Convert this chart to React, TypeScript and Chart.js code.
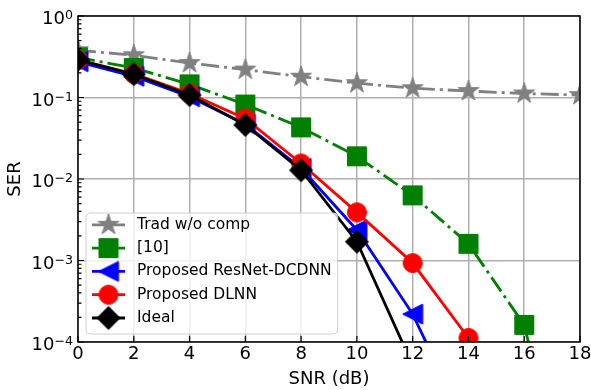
import React, { useEffect, useRef } from "react";
import { Chart, registerables } from "chart.js";

Chart.register(...registerables);

// ---------- data ----------
const snrDb = [0, 2, 4, 6, 8, 10, 12, 14, 16, 18];
const tradSER = [0.38, 0.33, 0.265, 0.22, 0.18, 0.15, 0.13, 0.12, 0.112, 0.107];
const ref10SER = [0.31, 0.23, 0.145, 0.082, 0.043, 0.019, 0.0063, 0.0016, 0.000162, 2.5e-7];
const resnetSER = [0.275, 0.182, 0.102, 0.047, 0.0135, 0.00237, 0.00022, 8e-6, null, null];
const dlnnSER = [0.29, 0.195, 0.112, 0.055, 0.0155, 0.0039, 0.00093, 0.000112, null, null];
const idealSER = [0.29, 0.193, 0.107, 0.046, 0.0128, 0.0017, 5.2e-5, null, null, null];
const seriesLabels = ["Trad w/o comp", "[10]", "Proposed ResNet-DCDNN", "Proposed DLNN", "Ideal"];
const yTickValues = [1e-4, 1e-3, 1e-2, 1e-1, 1];
const yTickExponents = ["\u22124", "\u22123", "\u22122", "\u22121", "0"];
const xTitle = "SNR (dB)";
const yTitle = "SER";

const FONT = '"DejaVu Sans", "Liberation Sans", sans-serif';

// ---------- styles ----------
type MarkerKind = "star" | "square" | "triLeft" | "circle" | "diamond";
const seriesStyles: { color: string; dash: number[]; marker: MarkerKind }[] = [
  { color: "#808080", dash: [18, 5, 3, 5], marker: "star" },
  { color: "#008000", dash: [17, 5, 3, 5], marker: "square" },
  { color: "#0000ff", dash: [], marker: "triLeft" },
  { color: "#ff0000", dash: [], marker: "circle" },
  { color: "#000000", dash: [], marker: "diamond" },
];

function makeMarker(kind: MarkerKind, color: string): HTMLCanvasElement {
  const S = 30;
  const c = document.createElement("canvas");
  c.width = S;
  c.height = S;
  const ctx = c.getContext("2d")!;
  const m = S / 2;
  ctx.fillStyle = color;
  ctx.strokeStyle = color;
  ctx.lineWidth = 1;
  ctx.lineJoin = "miter";
  ctx.beginPath();
  if (kind === "star") {
    const R = 11;
    const r = R * 0.382;
    for (let i = 0; i < 10; i++) {
      const ang = -Math.PI / 2 + (i * Math.PI) / 5;
      const rad = i % 2 === 0 ? R : r;
      const px = m + rad * Math.cos(ang);
      const py = m + rad * Math.sin(ang);
      if (i === 0) ctx.moveTo(px, py);
      else ctx.lineTo(px, py);
    }
  } else if (kind === "square") {
    const h = 9.5;
    ctx.rect(m - h, m - h, 2 * h, 2 * h);
  } else if (kind === "triLeft") {
    const h = 10;
    ctx.moveTo(m - h, m);
    ctx.lineTo(m + h, m - h);
    ctx.lineTo(m + h, m + h);
  } else if (kind === "circle") {
    ctx.arc(m, m, 9.5, 0, Math.PI * 2);
  } else if (kind === "diamond") {
    const h = 11.5;
    ctx.moveTo(m, m - h);
    ctx.lineTo(m + h, m);
    ctx.lineTo(m, m + h);
    ctx.lineTo(m - h, m);
  }
  ctx.closePath();
  ctx.fill();
  ctx.stroke();
  return c;
}

export default function App() {
  const ref = useRef<HTMLCanvasElement | null>(null);

  useEffect(() => {
    document.body.style.margin = "0";
    const canvas = ref.current;
    if (!canvas) return;

    const seriesValues = [tradSER, ref10SER, resnetSER, dlnnSER, idealSER];
    const markers = seriesStyles.map((s) => makeMarker(s.marker, s.color));

    const datasets = seriesValues.map((vals, i) => ({
      label: seriesLabels[i],
      data: snrDb.map((x, j) => ({ x, y: vals[j] })),
      borderColor: seriesStyles[i].color,
      backgroundColor: seriesStyles[i].color,
      borderWidth: 2.8,
      borderDash: seriesStyles[i].dash,
      borderCapStyle: "butt" as const,
      pointStyle: markers[i],
      pointRadius: 3,
      pointHoverRadius: 3,
      tension: 0,
      clip: 0,
      order: seriesValues.length - i,
      spanGaps: false,
    }));

    const framePlugin = {
      id: "mplFrame",
      afterDatasetsDraw(chart: any) {
        const { ctx, chartArea: a } = chart;
        const xs = chart.scales.x;
        const ys = chart.scales.y;
        ctx.save();
        // spines
        ctx.strokeStyle = "#000";
        ctx.lineWidth = 1.5;
        ctx.strokeRect(a.left, a.top, a.right - a.left, a.bottom - a.top);
        // inward ticks
        ctx.lineWidth = 1.2;
        ctx.beginPath();
        yTickValues.forEach((v) => {
          const py = ys.getPixelForValue(v);
          ctx.moveTo(a.left, py);
          ctx.lineTo(a.left + 6, py);
        });
        for (let k = 0; k < yTickValues.length - 1; k++) {
          for (let mlt = 2; mlt <= 9; mlt++) {
            const py = ys.getPixelForValue(yTickValues[k] * mlt);
            ctx.moveTo(a.left, py);
            ctx.lineTo(a.left + 3.5, py);
          }
        }
        xs.ticks.forEach((t: any) => {
          const px = xs.getPixelForValue(t.value);
          ctx.moveTo(px, a.bottom);
          ctx.lineTo(px, a.bottom - 6);
        });
        ctx.stroke();

        // y tick labels with superscripts
        ctx.fillStyle = "#000";
        ctx.textBaseline = "alphabetic";
        ctx.textAlign = "left";
        yTickValues.forEach((v, i) => {
          const py = ys.getPixelForValue(v);
          ctx.font = `18px ${FONT}`;
          const wb = ctx.measureText("10").width;
          ctx.font = `12.6px ${FONT}`;
          const we = ctx.measureText(yTickExponents[i]).width;
          const right = a.left - 5;
          const x0 = right - wb - we;
          ctx.font = `18px ${FONT}`;
          ctx.fillText("10", x0, py + 8);
          ctx.font = `12.6px ${FONT}`;
          ctx.fillText(yTickExponents[i], x0 + wb, py + 3.3);
        });

        // legend (lower left)
        const fs = 15.5;
        const rowH = 23.3;
        const n = seriesLabels.length;
        ctx.font = `${fs}px ${FONT}`;
        const maxW = Math.max(...seriesLabels.map((s) => ctx.measureText(s).width));
        const boxL = a.left + 8;
        const boxB = a.bottom - 8;
        const boxH = 121;
        const boxT = boxB - boxH;
        const textX = boxL + 51;
        const boxW = textX - boxL + maxW + 6;
        const r = 4;
        ctx.beginPath();
        ctx.moveTo(boxL + r, boxT);
        ctx.lineTo(boxL + boxW - r, boxT);
        ctx.arcTo(boxL + boxW, boxT, boxL + boxW, boxT + r, r);
        ctx.lineTo(boxL + boxW, boxB - r);
        ctx.arcTo(boxL + boxW, boxB, boxL + boxW - r, boxB, r);
        ctx.lineTo(boxL + r, boxB);
        ctx.arcTo(boxL, boxB, boxL, boxB - r, r);
        ctx.lineTo(boxL, boxT + r);
        ctx.arcTo(boxL, boxT, boxL + r, boxT, r);
        ctx.closePath();
        ctx.fillStyle = "rgba(255,255,255,0.8)";
        ctx.fill();
        ctx.strokeStyle = "#d0d0d0";
        ctx.lineWidth = 1;
        ctx.stroke();

        for (let i = 0; i < n; i++) {
          const cy = boxB - 16 - (n - 1 - i) * rowH;
          const st = seriesStyles[i];
          ctx.strokeStyle = st.color;
          ctx.lineWidth = 2.8;
          ctx.setLineDash([]);
          ctx.beginPath();
          ctx.moveTo(boxL + 6, cy);
          ctx.lineTo(boxL + 39, cy);
          ctx.stroke();
          const mk = markers[i];
          ctx.drawImage(mk, boxL + 22.5 - mk.width / 2, cy - mk.height / 2);
          ctx.fillStyle = "#000";
          ctx.font = `${fs}px ${FONT}`;
          ctx.textBaseline = "middle";
          ctx.fillText(seriesLabels[i], textX, cy);
        }
        ctx.restore();
      },
    };

    const chart = new Chart(canvas, {
      type: "line",
      data: { datasets: datasets as any },
      options: {
        responsive: false,
        animation: false,
        devicePixelRatio: 1,
        layout: { padding: { top: 16, right: 11, left: 0, bottom: 0 } },
        plugins: {
          legend: { display: false },
          tooltip: { enabled: false },
        },
        scales: {
          x: {
            type: "linear",
            min: 0,
            max: 18,
            ticks: {
              stepSize: 2,
              color: "#000",
              font: { family: FONT, size: 18 },
              padding: 2,
              maxRotation: 0,
            },
            grid: { color: "#b0b0b0", lineWidth: 1.5, drawTicks: false },
            border: { display: false },
            title: {
              display: true,
              text: xTitle,
              color: "#000",
              font: { family: FONT, size: 18 },
              padding: { top: 0, bottom: 0 },
            },
            afterFit: (s: any) => {
              s.height = 48;
              s.paddingLeft = 0;
              s.paddingRight = 0;
            },
          },
          y: {
            type: "logarithmic",
            min: 1e-4,
            max: 1,
            afterBuildTicks: (s: any) => {
              s.ticks = yTickValues.map((v) => ({ value: v, major: true }));
            },
            ticks: { display: false },
            grid: { color: "#b0b0b0", lineWidth: 1.5, drawTicks: false },
            border: { display: false },
            title: {
              display: true,
              text: yTitle,
              color: "#000",
              font: { family: FONT, size: 18 },
              padding: { top: 5, bottom: 0 },
            },
            afterFit: (s: any) => {
              s.width = 78;
              s.paddingTop = 0;
              s.paddingBottom = 0;
            },
          },
        },
      },
      plugins: [framePlugin],
    });

    return () => chart.destroy();
  }, []);

  return (
    <div style={{ width: 591, height: 390 }}>
      <canvas ref={ref} width={591} height={390} style={{ display: "block" }} />
    </div>
  );
}
